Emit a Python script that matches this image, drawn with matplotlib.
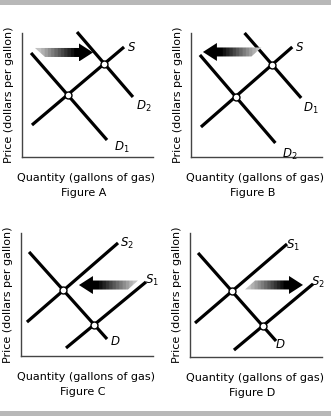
import numpy as np
import matplotlib.pyplot as plt
from matplotlib.patches import Polygon, Rectangle
from matplotlib.colors import LinearSegmentedColormap

plt.rcParams['font.family'] = 'DejaVu Sans'
plt.rcParams['mathtext.fontset'] = 'dejavusans'

# Curve end points (x0, y0, x1, y1) on a 0-10 quantity/price grid

# Figure A: demand increases
a_d1 = [0.69, 8.39, 6.49, 1.37]
a_s = [0.76, 2.58, 7.79, 8.87]
a_d2 = [4.20, 10.08, 8.47, 4.84]

# Figure B: demand decreases
b_d2 = [0.68, 8.23, 6.44, 1.13]
b_s = [0.76, 2.42, 7.73, 8.87]
b_d1 = [4.09, 10.00, 8.41, 4.76]

# Figure C: supply decreases
c_d = [0.61, 8.46, 6.52, 1.38]
c_s2 = [0.45, 2.76, 7.35, 9.19]
c_s1 = [3.41, 0.65, 9.47, 6.02]

# Figure D: supply increases
d_d = [0.61, 8.39, 6.52, 1.29]
d_s1 = [0.38, 2.74, 7.35, 9.11]
d_s2 = [3.33, 0.56, 9.32, 5.89]

# Shift arrows: (tail x, tip x, y, which corner of the tail sticks out)
a_arrow = [0.99, 5.42, 8.43, 'top']
b_arrow = [5.38, 0.91, 8.47, 'top']
c_arrow = [8.86, 4.39, 5.77, 'top']
d_arrow = [4.17, 8.56, 5.81, 'bottom']

# Curve labels: text, x, y
a_labels = [('$S$', 8.40, 8.87), ('$D_2$', 9.31, 4.11), ('$D_1$', 7.63, 0.81)]
b_labels = [('$S$', 8.26, 8.87), ('$D_1$', 9.17, 3.95), ('$D_2$', 7.50, 0.24)]
c_labels = [('$S_2$', 8.03, 9.19), ('$S_1$', 9.92, 6.18), ('$D$', 7.12, 1.14)]
d_labels = [('$S_1$', 7.80, 9.03), ('$S_2$', 9.70, 6.05), ('$D$', 6.82, 0.97)]

titles = ['Figure A', 'Figure B', 'Figure C', 'Figure D']

W, H = 331, 416
fig = plt.figure(figsize=(W / 100, H / 100), dpi=100)

# grey rules at the top and bottom of the page
fig.add_artist(Rectangle((0, 1 - 5 / H), 1, 5 / H, transform=fig.transFigure,
                         color='#b8b8b8', lw=0))
fig.add_artist(Rectangle((0, 0), 1, 5 / H, transform=fig.transFigure,
                         color='#b8b8b8', lw=0))

# axes boxes in pixels: left, right, top, bottom
boxes = [(22, 153, 33, 157), (191, 322, 33, 157),
         (21, 153, 233, 356), (190, 322, 233, 357)]

arrow_cmap = LinearSegmentedColormap.from_list('shift', ['#c2c2c2', '#000000'], N=12)


def crossing(p, q):
    # intersection of two straight curves
    x1, y1, x2, y2 = p
    x3, y3, x4, y4 = q
    den = (x1 - x2) * (y3 - y4) - (y1 - y2) * (x3 - x4)
    t = ((x1 - x3) * (y3 - y4) - (y1 - y3) * (x3 - x4)) / den
    return x1 + t * (x2 - x1), y1 + t * (y2 - y1)


def shift_arrow(ax, arrow, sx, sy):
    x_tail, x_tip, y, corner = arrow
    d = np.sign(x_tip - x_tail)
    body = 4.5 / sy
    head = 9 / sy
    head_len = 14 / sx
    tail_off = 10 / sx
    xb = x_tip - d * head_len
    if corner == 'top':
        top_x, bot_x = x_tail, x_tail + d * tail_off
    else:
        top_x, bot_x = x_tail + d * tail_off, x_tail
    pts = [(top_x, y + body), (xb, y + body), (xb, y + head), (x_tip, y),
           (xb, y - head), (xb, y - body), (bot_x, y - body)]
    poly = Polygon(pts, closed=True, fc='none', ec='none')
    ax.add_patch(poly)
    grad = np.linspace(0, 1, 256).reshape(1, -1)
    if d < 0:
        grad = grad[:, ::-1]
    im = ax.imshow(grad, cmap=arrow_cmap, vmin=0.05, vmax=0.72, aspect='auto',
                   extent=[min(x_tail, x_tip), max(x_tail, x_tip), y - head, y + head],
                   zorder=4)
    im.set_clip_path(poly)


panels = [
    ([a_d1, a_s, a_d2], [(a_d1, a_s), (a_d2, a_s)], a_arrow, a_labels),
    ([b_d2, b_s, b_d1], [(b_d2, b_s), (b_d1, b_s)], b_arrow, b_labels),
    ([c_d, c_s2, c_s1], [(c_d, c_s2), (c_d, c_s1)], c_arrow, c_labels),
    ([d_d, d_s1, d_s2], [(d_d, d_s1), (d_d, d_s2)], d_arrow, d_labels),
]

for (curves, pairs, arrow, labels), title, (l, r, t, b) in zip(panels, titles, boxes):
    ax = fig.add_axes([l / W, 1 - b / H, (r - l) / W, (b - t) / H])
    sx, sy = (r - l) / 10, (b - t) / 10

    for x0, y0, x1, y1 in curves:
        ax.plot([x0, x1], [y0, y1], color='black', lw=2.3,
                solid_capstyle='butt', clip_on=False, zorder=3)

    for p, q in pairs:
        ex, ey = crossing(p, q)
        ax.plot(ex, ey, 'o', ms=5, mfc='white', mec='black', mew=1.0,
                clip_on=False, zorder=5)

    shift_arrow(ax, arrow, sx, sy)

    for txt, x, y in labels:
        ax.text(x, y, txt, fontsize=8.5, ha='center', va='center')

    ax.set_xlim(0, 10)
    ax.set_ylim(0, 10)
    ax.set_xticks([])
    ax.set_yticks([])
    for side in ['top', 'right']:
        ax.spines[side].set_visible(False)
    for side in ['left', 'bottom']:
        ax.spines[side].set_color('#444444')
        ax.spines[side].set_linewidth(1.0)
    ax.patch.set_alpha(0)

    ax.text(0.49, -21 / (b - t), 'Quantity (gallons of gas)', transform=ax.transAxes,
            fontsize=8, ha='center', va='center')
    ax.text(0.47, -36 / (b - t), title, transform=ax.transAxes,
            fontsize=8, ha='center', va='center')
    ax.text(-13 / (r - l), 0.5, 'Price (dollars per gallon)', transform=ax.transAxes,
            fontsize=8, ha='center', va='center', rotation=90)

fig.savefig('out.png', dpi=100, facecolor='white')
